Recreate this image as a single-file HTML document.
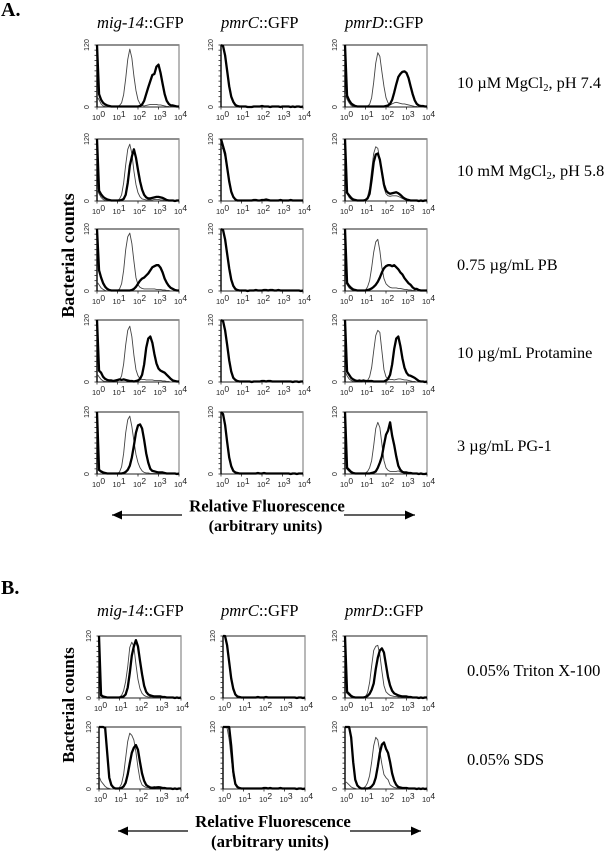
<!DOCTYPE html>
<html>
<head>
<meta charset="utf-8">
<title>GFP flow cytometry histograms</title>
<style>
html,body{margin:0;padding:0;background:#fff;}
svg{display:block;}
.serif{font-family:"Liberation Serif",serif;fill:#000;}
.tick{font-family:"Liberation Sans",sans-serif;fill:#222;}
</style>
</head>
<body>
<svg id="fig" width="607" height="851" viewBox="0 0 607 851" xmlns="http://www.w3.org/2000/svg">
<defs>
<marker id="ah" markerUnits="userSpaceOnUse" markerWidth="10" markerHeight="9" refX="10" refY="4.5" orient="auto-start-reverse"><path d="M0,0 L10,4.5 L0,9 Z" fill="#000"/></marker>
</defs>
<text class="serif" x="1" y="16" font-size="20" font-weight="bold">A.</text>
<text class="serif" x="1" y="594" font-size="20" font-weight="bold">B.</text>

<text class="serif" x="97" y="28" font-size="16.600"><tspan font-style="italic">mig-14</tspan>::GFP</text>
<text class="serif" x="221" y="28" font-size="16.600"><tspan font-style="italic">pmrC</tspan>::GFP</text>
<text class="serif" x="345" y="28" font-size="16.600"><tspan font-style="italic">pmrD</tspan>::GFP</text>
<text class="serif" x="97" y="616" font-size="16.600"><tspan font-style="italic">mig-14</tspan>::GFP</text>
<text class="serif" x="221" y="616" font-size="16.600"><tspan font-style="italic">pmrC</tspan>::GFP</text>
<text class="serif" x="345" y="616" font-size="16.600"><tspan font-style="italic">pmrD</tspan>::GFP</text>

<text class="serif" x="457" y="88" font-size="16.300">10 µM MgCl<tspan font-size="10.500" dy="3">2</tspan><tspan dy="-3">, pH 7.4</tspan></text>
<text class="serif" x="457" y="176" font-size="16.300">10 mM MgCl<tspan font-size="10.500" dy="3">2</tspan><tspan dy="-3">, pH 5.8</tspan></text>
<text class="serif" x="457" y="270" font-size="16.300">0.75 µg/mL PB</text>
<text class="serif" x="457" y="358" font-size="16.300">10 µg/mL Protamine</text>
<text class="serif" x="457" y="451" font-size="16.300">3 µg/mL PG-1</text>
<text class="serif" x="467" y="676" font-size="16.500">0.05% Triton X-100</text>
<text class="serif" x="467" y="765" font-size="16.500">0.05% SDS</text>

<text class="serif" transform="translate(74,255.500) rotate(-90)" text-anchor="middle" font-size="18" font-weight="bold">Bacterial counts</text>
<text class="serif" transform="translate(74,705) rotate(-90)" text-anchor="middle" font-size="16.700" font-weight="bold">Bacterial counts</text>

<text class="serif" x="267" y="511.500" text-anchor="middle" font-size="16.800" font-weight="bold">Relative Fluorescence</text>
<text class="serif" x="265.500" y="531" text-anchor="middle" font-size="16.200" font-weight="bold">(arbitrary units)</text>
<text class="serif" x="273" y="827" text-anchor="middle" font-size="16.800" font-weight="bold">Relative Fluorescence</text>
<text class="serif" x="270" y="847" text-anchor="middle" font-size="16.800" font-weight="bold">(arbitrary units)</text>

<line x1="182" y1="515" x2="112" y2="515" stroke="#000" stroke-width="1.300" marker-end="url(#ah)"/>
<line x1="344" y1="515" x2="415" y2="515" stroke="#000" stroke-width="1.300" marker-end="url(#ah)"/>
<line x1="188" y1="831" x2="118" y2="831" stroke="#000" stroke-width="1.300" marker-end="url(#ah)"/>
<line x1="350" y1="831" x2="421" y2="831" stroke="#000" stroke-width="1.300" marker-end="url(#ah)"/>
</svg>
<script>
// Axis tick labels
const xTickBase = ["10","10","10","10","10"];
const xTickExp = ["0","1","2","3","4"];
const yTickLabels = ["0","120"];
const yTickValues = [0,120];
const xTickLogs = [0,1,2,3,4];
const logStep = 0.1;

// Histogram counts, one value per 0.1 decade from 10^0 to 10^4
const a1MigThin = [20,14,6,2,1,0,0,0,0,0,1,3,8,24,55,92,112,95,60,32,14,6,3,2,3,4,5,5,5,5,4,4,3,2,1,1,0,0,0,0,0];
const a1MigThick = [120,25,14,8,5,3,2,1,1,1,1,1,1,1,1,1,1,1,1,1,1,2,5,12,25,38,50,62,64,78,82,66,45,25,12,6,3,3,2,1,1];
const a1PmrcThin = [120,116,98,68,38,18,9,3,1,1,0,0,0,0,0,0,0,0,0,0,0,0,0,0,0,0,0,0,0,0,0,0,0,0,0,0,0,0,0,0,0];
const a1PmrcThick = [120,118,100,70,40,20,10,4,2,1,1,1,1,0,0,0,1,1,1,1,2,1,1,1,0,1,1,1,1,0,1,1,1,1,0,1,0,1,1,0,1];
const a1PmrdThin = [25,15,8,3,1,1,0,0,0,0,1,2,5,18,48,85,105,98,68,40,18,8,4,6,8,9,8,7,6,6,5,4,3,2,1,1,0,0,0,0,0];
const a1PmrdThick = [120,22,13,7,4,2,1,1,1,1,1,1,1,1,1,1,1,1,1,1,2,3,6,14,28,44,58,64,68,69,66,56,40,25,13,6,3,2,2,1,1];

const a2MigThin = [22,14,7,3,1,1,0,0,0,0,1,4,12,35,70,100,110,92,58,32,16,8,4,3,2,2,2,2,3,3,3,2,2,1,1,1,0,0,0,0,0];
const a2MigThick = [120,20,13,8,5,3,2,1,1,1,1,1,2,4,12,35,68,86,100,84,60,38,22,12,7,5,5,6,7,8,8,7,6,4,2,1,1,1,0,1,1];
const a2PmrcThin = [105,100,85,60,35,15,8,3,1,1,0,0,0,0,0,0,0,0,0,0,0,0,0,0,0,0,0,0,0,0,0,0,0,0,0,0,0,0,0,0,0];
const a2PmrcThick = [120,106,92,65,38,18,8,3,1,1,1,1,1,1,1,1,2,2,1,1,2,2,3,2,1,1,1,1,1,2,1,1,1,1,2,1,1,1,1,1,1];
const a2PmrdThin = [20,14,7,3,1,1,0,0,0,1,2,8,25,60,92,105,102,80,50,26,14,10,9,10,10,10,9,7,5,3,2,1,1,0,0,0,0,0,0,0,0];
const a2PmrdThick = [120,16,11,6,3,2,1,1,1,1,2,5,14,42,75,90,92,80,56,32,20,16,14,15,16,17,15,12,8,5,3,2,1,1,1,1,0,1,0,1,1];

const a3MigThin = [18,12,6,3,1,0,0,0,0,0,1,4,14,40,80,105,112,92,58,26,12,7,5,4,4,4,4,4,4,3,3,3,2,2,1,1,0,0,0,0,0];
const a3MigThick = [120,40,26,15,8,4,2,1,1,1,1,1,1,1,1,1,1,2,4,8,14,20,24,26,30,34,40,46,48,50,50,45,36,24,16,10,6,4,2,1,1];
const a3PmrcThin = [120,116,98,70,40,20,10,4,2,1,0,0,0,0,0,0,0,0,0,0,0,0,0,0,0,0,0,0,0,0,0,0,0,0,0,0,0,0,0,0,0];
const a3PmrcThick = [120,118,100,72,44,22,10,4,2,1,1,1,1,0,1,1,1,2,1,1,1,2,2,1,2,2,1,1,2,1,1,1,1,1,1,1,1,1,1,0,1];
const a3PmrdThin = [18,12,6,3,1,0,0,0,0,1,2,8,20,45,75,95,100,78,45,24,14,10,7,6,6,6,5,5,4,3,3,2,2,1,1,0,0,0,0,0,0];
const a3PmrdThick = [120,16,10,6,3,2,1,1,1,1,1,2,3,5,8,12,18,26,36,44,48,50,50,48,50,46,42,36,32,25,20,15,12,7,4,4,2,1,1,1,1];

const a4MigThin = [16,10,5,2,1,1,1,1,1,1,2,4,12,35,72,100,108,88,52,24,12,6,5,5,4,4,4,4,3,3,3,3,2,2,1,1,0,0,0,0,0];
const a4MigThick = [120,22,18,10,6,4,3,3,2,3,4,5,4,5,4,3,2,2,1,2,3,6,14,34,66,84,88,76,54,36,26,22,20,18,14,10,6,3,2,1,1];
const a4PmrcThin = [120,116,98,68,38,18,8,3,1,1,0,0,0,0,0,0,0,0,0,0,0,0,0,0,0,0,0,0,0,0,0,0,0,0,0,0,0,0,0,0,0];
const a4PmrcThick = [120,118,100,72,42,20,8,4,2,1,1,1,1,1,1,0,1,1,1,1,2,2,1,2,2,1,1,1,1,1,1,1,1,1,1,0,1,1,0,1,1];
const a4PmrdThin = [20,12,6,3,1,1,0,1,1,0,1,3,10,28,60,90,100,96,60,24,10,6,5,5,4,5,6,6,5,4,4,3,2,1,1,0,0,0,0,0,0];
const a4PmrdThick = [120,20,14,8,5,3,2,3,2,3,2,2,2,2,1,1,1,1,1,1,3,6,14,34,64,84,88,70,46,28,18,13,12,10,8,5,2,1,1,0,1];

const a5MigThin = [10,6,3,2,1,0,0,0,0,0,1,4,14,40,80,105,112,92,64,38,22,12,6,3,2,2,1,1,1,1,1,0,0,0,0,0,0,0,0,0,0];
const a5MigThick = [120,8,5,3,2,1,1,1,1,1,1,1,1,2,4,8,16,32,55,80,94,96,88,66,40,22,10,6,5,4,3,3,3,2,1,1,1,1,1,0,1];
const a5PmrcThin = [120,112,92,60,30,14,6,2,1,1,0,0,0,0,0,0,0,0,0,0,0,0,0,0,0,0,0,0,0,0,0,0,0,0,0,0,0,0,0,0,0];
const a5PmrcThick = [120,116,95,62,32,15,6,3,2,1,1,1,1,1,1,1,1,1,2,1,1,2,1,1,1,1,1,1,1,1,1,1,1,1,0,1,1,0,1,1,1];
const a5PmrdThin = [14,9,5,2,1,1,0,0,0,1,2,5,12,26,55,88,100,90,58,26,12,7,5,5,5,5,6,4,3,2,2,1,1,0,0,0,0,0,0,0,0];
const a5PmrdThick = [120,12,8,4,2,1,1,1,1,1,1,1,1,2,3,5,12,22,34,56,76,84,100,74,56,34,16,8,4,3,3,2,2,1,1,1,0,1,0,0,1];

const b1MigThin = [10,8,4,2,1,0,0,0,0,0,2,5,14,32,60,98,108,100,66,36,18,9,5,3,2,2,2,1,1,1,1,1,0,0,0,0,0,0,0,0,0];
const b1MigThick = [120,5,3,2,1,1,1,1,1,1,1,2,3,7,20,48,82,100,112,100,72,46,24,12,7,5,4,3,3,3,3,2,2,1,1,1,1,0,1,0,1];
const b1PmrcThin = [120,118,100,68,36,16,6,2,1,1,0,0,0,0,0,0,0,0,0,0,0,0,0,0,0,0,0,0,0,0,0,0,0,0,0,0,0,0,0,0,0];
const b1PmrcThick = [120,120,102,70,38,18,7,3,2,1,1,1,1,1,1,1,1,2,1,1,1,2,1,1,1,1,1,1,1,1,1,1,1,1,1,1,0,1,1,0,1];
const b1PmrdThin = [12,9,5,2,1,1,0,0,1,1,3,10,30,62,92,100,102,84,52,24,12,8,5,4,3,3,2,2,1,1,1,0,0,0,0,0,0,0,0,0,0];
const b1PmrdThick = [120,12,8,4,2,1,1,1,1,1,2,4,8,16,28,56,78,92,96,88,64,40,24,14,9,7,5,4,3,3,3,2,2,1,1,1,0,1,0,1,1];

const b2MigThin = [25,15,10,5,2,1,0,0,0,1,3,10,28,60,92,108,104,95,72,42,18,8,5,3,3,4,4,5,4,5,4,3,2,1,1,0,0,0,0,0,0];
const b2MigThick = [120,120,120,118,70,22,8,3,1,1,1,2,5,12,28,50,70,80,85,76,52,30,16,8,5,3,2,2,3,3,3,2,2,1,1,1,0,1,0,1,1];
const b2PmrcThin = [120,120,118,96,60,24,8,3,1,1,0,0,0,0,0,0,0,0,0,0,0,0,0,0,0,0,0,0,0,0,0,0,0,0,0,0,0,0,0,0,0];
const b2PmrcThick = [120,120,120,120,84,34,10,4,2,1,1,1,1,1,1,1,1,1,1,1,2,2,1,2,1,1,1,1,2,1,1,1,1,1,1,1,0,1,1,0,1];
const b2PmrdThin = [15,12,8,4,2,1,0,0,1,2,5,12,26,52,84,100,95,72,48,28,22,18,8,5,3,2,2,1,1,1,0,0,0,0,0,0,0,0,0,0,0];
const b2PmrdThick = [120,120,120,100,52,18,7,3,1,1,1,1,2,5,10,22,44,70,86,90,78,70,52,30,16,8,4,3,2,2,2,1,1,1,1,0,1,0,1,0,1];

// Panel layout lists
const panelNames = ["a1-mig14","a1-pmrc","a1-pmrd","a2-mig14","a2-pmrc","a2-pmrd","a3-mig14","a3-pmrc","a3-pmrd","a4-mig14","a4-pmrc","a4-pmrd","a5-mig14","a5-pmrc","a5-pmrd","b1-mig14","b1-pmrc","b1-pmrd","b2-mig14","b2-pmrc","b2-pmrd"];
const thinSeries = [a1MigThin,a1PmrcThin,a1PmrdThin,a2MigThin,a2PmrcThin,a2PmrdThin,a3MigThin,a3PmrcThin,a3PmrdThin,a4MigThin,a4PmrcThin,a4PmrdThin,a5MigThin,a5PmrcThin,a5PmrdThin,b1MigThin,b1PmrcThin,b1PmrdThin,b2MigThin,b2PmrcThin,b2PmrdThin];
const thickSeries = [a1MigThick,a1PmrcThick,a1PmrdThick,a2MigThick,a2PmrcThick,a2PmrdThick,a3MigThick,a3PmrcThick,a3PmrdThick,a4MigThick,a4PmrcThick,a4PmrdThick,a5MigThick,a5PmrcThick,a5PmrdThick,b1MigThick,b1PmrcThick,b1PmrdThick,b2MigThick,b2PmrcThick,b2PmrdThick];

const NS = "http://www.w3.org/2000/svg";
const fig = document.getElementById("fig");
const colLeftA = [97,221,345];
const colLeftB = [99,223,345];
const rowTopA = [45,139,229,320,412];
const rowTopB = [636,727];
const panelW = 82;
const panelH = 62;

function mk(tag, attrs, parent){
  const e = document.createElementNS(NS, tag);
  for (const k in attrs) e.setAttribute(k, attrs[k]);
  parent.appendChild(e);
  return e;
}
function seriesPath(values, xs, ys){
  return values.map((v,i)=>(i?"L":"M")+xs(i*logStep).toFixed(2)+" "+ys(v).toFixed(2)).join(" ");
}
function drawPanel(index, left, top){
  const xs = v => left + (v/4)*panelW;
  const ys = v => top + panelH - (v/120)*panelH;
  const g = mk("g", {}, fig);
  
  

  const frame = mk("rect", {x:left,y:top,width:panelW,height:panelH,fill:"#fff",stroke:"#222","stroke-width":1}, g);
  
  

  const rightEdge = mk("line", {x1:left+panelW,y1:top,x2:left+panelW,y2:top+panelH,stroke:"#888","stroke-width":1.2}, g);
  
  

  const yAxis = mk("line", {x1:left,y1:top,x2:left,y2:top+panelH,stroke:"#000","stroke-width":1.4}, g);
  
  

  // minor ticks on the left edge
  for (let c=0;c<=120;c+=10){
    const t = mk("line", {x1:left-2.500,x2:left,y1:ys(c),y2:ys(c),stroke:"#222","stroke-width":0.8}, g);
    
    
  }
  yTickValues.forEach((val,i)=>{
    const y = ys(val);
    const lab = mk("text", {class:"tick","font-size":7,"text-anchor":"middle",transform:"translate("+(left-8)+","+y+") rotate(-90)"}, g);
    
    
    lab.textContent = yTickLabels[i];
  });
  xTickLogs.forEach((val,i)=>{
    const x = xs(val);
    const t = mk("line", {x1:x,x2:x,y1:top+panelH,y2:top+panelH+2.500,stroke:"#222","stroke-width":0.8}, g);
    
    
    const lab = mk("text", {class:"tick","font-size":7.500,x:x-5,y:top+panelH+13}, g);
    
    
    lab.textContent = xTickBase[i];
    const sup = mk("tspan", {"font-size":8.500,dy:-3}, lab);
    sup.textContent = xTickExp[i];
  });

  const thin = mk("path", {d:seriesPath(thinSeries[index],xs,ys),fill:"none",stroke:"#444","stroke-width":0.9,"stroke-linejoin":"round"}, g);
  
  

  const thick = mk("path", {d:seriesPath(thickSeries[index],xs,ys),fill:"none",stroke:"#000","stroke-width":2.300,"stroke-linejoin":"round"}, g);
  
  
}

let panelIndex = 0;
rowTopA.forEach(top => colLeftA.forEach(left => drawPanel(panelIndex++, left, top)));
rowTopB.forEach(top => colLeftB.forEach(left => drawPanel(panelIndex++, left, top)));
</script>
</body>
</html>
